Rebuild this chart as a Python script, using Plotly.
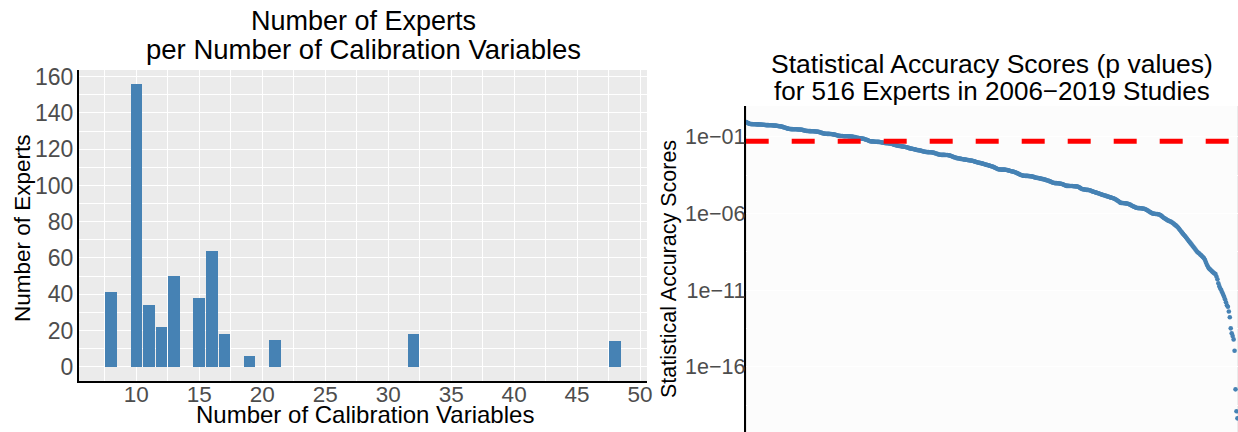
import plotly.graph_objects as go

# ---------------- data ----------------
calib_vars = [8, 10, 11, 12, 13, 15, 16, 17, 19, 21, 32, 48]
n_experts = [41, 156, 34, 22, 50, 38, 64, 18, 6, 15, 18, 14]
left_xticks = [10, 15, 20, 25, 30, 35, 40, 45, 50]
left_yticks = [0, 20, 40, 60, 80, 100, 120, 140, 160]

# log10 of statistical accuracy scores, sorted decreasing
acc_log10 = [
    -0.05, -0.09, -0.12, -0.15, -0.17,
    -0.18, -0.18, -0.19, -0.19, -0.19, -0.19, -0.20, -0.20, -0.20, -0.21, -0.21, -0.21, -0.22, -0.22, -0.23,
    -0.24, -0.25, -0.25, -0.25, -0.26, -0.26, -0.26, -0.26, -0.27, -0.27, -0.28, -0.28, -0.29,
    -0.30, -0.31, -0.32, -0.33, -0.34, -0.36, -0.38, -0.40, -0.42, -0.44, -0.46, -0.48, -0.49, -0.50,
    -0.51, -0.51, -0.52, -0.52, -0.52, -0.52, -0.52, -0.53, -0.53, -0.53, -0.54, -0.55, -0.56, -0.58, -0.60,
    -0.61, -0.62, -0.63, -0.63, -0.64, -0.64,
    -0.65, -0.65, -0.65, -0.65, -0.66, -0.66, -0.67, -0.68, -0.69, -0.71, -0.73, -0.75,
    -0.77, -0.79,
    -0.80, -0.81, -0.81, -0.82, -0.82, -0.82, -0.83, -0.83, -0.84, -0.85, -0.86, -0.87, -0.89, -0.91,
    -0.93, -0.94, -0.95, -0.96,
    -0.96, -0.96, -0.97, -0.97, -0.97, -0.97, -0.97, -0.98, -0.98, -0.99, -0.99, -1.00, -1.01, -1.02, -1.03, -1.05, -1.07,
    -1.08, -1.09, -1.10, -1.11, -1.12, -1.13, -1.14, -1.16, -1.18, -1.20, -1.22, -1.25, -1.28,
    -1.30, -1.31, -1.31, -1.32, -1.32, -1.33, -1.33, -1.33, -1.34, -1.34, -1.35, -1.36, -1.37, -1.38, -1.40,
    -1.41, -1.42, -1.42, -1.43, -1.43, -1.44, -1.45, -1.46, -1.48, -1.50, -1.52, -1.54, -1.56, -1.57, -1.59, -1.60, -1.61, -1.62, -1.63, -1.64,
    -1.65, -1.66, -1.67, -1.69, -1.71, -1.73, -1.75, -1.77, -1.78, -1.79, -1.80, -1.82, -1.83, -1.85, -1.87,
    -1.88, -1.89, -1.90, -1.91, -1.93, -1.95, -1.97, -1.98, -1.99, -2.00,
    -2.01, -2.01, -2.02, -2.02, -2.02, -2.03, -2.04,
    -2.06, -2.08, -2.10, -2.12, -2.14, -2.16, -2.18,
    -2.18, -2.19, -2.19, -2.19, -2.19, -2.20, -2.20, -2.20, -2.21, -2.22, -2.24, -2.26, -2.29, -2.32,
    -2.34, -2.36, -2.38, -2.40, -2.41, -2.42, -2.43, -2.45, -2.46, -2.47,
    -2.48, -2.49, -2.50, -2.51, -2.52, -2.53, -2.54, -2.55, -2.56, -2.57, -2.59, -2.61, -2.63, -2.65,
    -2.67, -2.68, -2.70, -2.71, -2.73, -2.74, -2.76, -2.78, -2.80, -2.82, -2.84,
    -2.85, -2.87, -2.89, -2.91, -2.93, -2.95, -2.97, -3.00, -3.03, -3.06, -3.09,
    -3.12, -3.13, -3.14, -3.14, -3.15, -3.15, -3.15, -3.15, -3.16, -3.17, -3.18,
    -3.20, -3.22, -3.24, -3.26, -3.27, -3.28, -3.30, -3.32, -3.35, -3.38, -3.41, -3.44, -3.47, -3.50, -3.52, -3.54,
    -3.55, -3.55, -3.56, -3.56, -3.56, -3.57, -3.57, -3.58, -3.59, -3.60, -3.62,
    -3.64, -3.66, -3.68, -3.69, -3.70, -3.71, -3.72, -3.74, -3.75, -3.77,
    -3.78, -3.80, -3.82, -3.84, -3.86, -3.88, -3.90, -3.93, -3.96, -3.99,
    -4.01, -4.02, -4.03, -4.03, -4.04, -4.04, -4.05, -4.06, -4.07, -4.09, -4.11, -4.14,
    -4.17, -4.19, -4.21,
    -4.21, -4.21, -4.22, -4.22, -4.22, -4.22, -4.23, -4.23, -4.24, -4.24, -4.25, -4.27, -4.30, -4.34, -4.38,
    -4.41, -4.43, -4.44, -4.45, -4.46, -4.47, -4.47, -4.48, -4.49, -4.51,
    -4.54, -4.57, -4.59, -4.61, -4.63, -4.65, -4.67, -4.69, -4.71, -4.74,
    -4.76, -4.78, -4.80, -4.82, -4.84, -4.86, -4.88, -4.90, -4.92, -4.94, -4.96, -4.98, -5.00,
    -5.02, -5.05, -5.08, -5.12, -5.16, -5.20, -5.25, -5.30,
    -5.32, -5.33, -5.33, -5.34, -5.34, -5.35, -5.36, -5.37, -5.39,
    -5.42, -5.45, -5.49, -5.52, -5.55, -5.58, -5.61, -5.64,
    -5.65, -5.66, -5.66, -5.67, -5.67, -5.68, -5.69, -5.70, -5.72, -5.75, -5.78, -5.82,
    -5.86, -5.90, -5.94, -5.98, -6.01,
    -6.02, -6.03, -6.04, -6.04, -6.05, -6.06, -6.08, -6.11, -6.15, -6.20, -6.26,
    -6.30, -6.34, -6.38, -6.42, -6.46, -6.49, -6.52,
    -6.54, -6.58, -6.62, -6.67, -6.72, -6.77, -6.82,
    -6.87, -6.94, -7.02, -7.10, -7.18, -7.26, -7.34,
    -7.41, -7.48, -7.56, -7.64, -7.72, -7.80, -7.88,
    -7.96, -8.04, -8.12, -8.20, -8.28, -8.36, -8.44, -8.52,
    -8.57, -8.62, -8.68, -8.74, -8.80, -8.86,
    -8.93, -9.05, -9.20, -9.35, -9.47,
    -9.58, -9.64, -9.70, -9.76, -9.82, -9.88, -9.92,
    -9.96, -10.12, -10.30, -10.56, -10.75, -10.90, -11.00,
    -11.15, -11.30, -11.44, -11.60, -11.80, -12.00, -12.09, -12.40, -12.78,
    -13.50, -13.82, -14.00, -14.22, -14.96, -17.48, -18.91, -19.37,
]
threshold = 0.05
right_yticks = [1e-1, 1e-6, 1e-11, 1e-16]
right_yticktext = ["1e\u221201", "1e\u221206", "1e\u221211", "1e\u221216"]
right_minor = [10 ** -3.5, 10 ** -8.5, 10 ** -13.5, 10 ** -18.5]

acc_scores = [10 ** v for v in acc_log10]
expert_idx = list(range(1, len(acc_scores) + 1))

# ---------------- figure ----------------
W, H = 1238, 432
FONT = "Liberation Sans, Arial, sans-serif"
BLUE = "#4682B4"

def px_x(x):
    return x / W

def px_y(y):
    return 1 - y / H

fig = go.Figure()

fig.add_trace(go.Bar(
    x=calib_vars, y=n_experts, width=0.92,
    marker=dict(color=BLUE, line=dict(width=0)),
    xaxis="x", yaxis="y", showlegend=False,
))

fig.add_trace(go.Scatter(
    x=expert_idx, y=acc_scores, mode="markers",
    marker=dict(color=BLUE, size=4.6, line=dict(width=0)),
    xaxis="x2", yaxis="y2", showlegend=False,
))

fig.add_trace(go.Scatter(
    x=[0.4, len(acc_scores) + 0.6], y=[threshold, threshold], mode="lines",
    line=dict(color="#FF0000", width=5, dash="23px,23px"),
    xaxis="x2", yaxis="y2", showlegend=False,
))

n = len(acc_scores)
fig.update_layout(
    template="none",
    width=W, height=H,
    margin=dict(l=0, r=0, t=0, b=0, autoexpand=False),
    paper_bgcolor="white",
    plot_bgcolor="#EBEBEB",
    font=dict(family=FONT, color="black"),
    bargap=0,
    xaxis=dict(
        domain=[px_x(79), px_x(647)], anchor="y", automargin=False,
        range=[5.45, 50.55],
        tickmode="array", tickvals=left_xticks, ticktext=[str(t) for t in left_xticks],
        tickfont=dict(size=22.5, color="#4D4D4D", family=FONT),
        ticks="", ticklen=0, ticklabelstandoff=-8,
        showgrid=True, gridcolor="white", gridwidth=1.1,
        minor=dict(dtick=2.5, tick0=0, showgrid=True, gridcolor="white", gridwidth=0.55),
        showline=True, linecolor="black", linewidth=2, zeroline=False,
    ),
    yaxis=dict(
        domain=[px_y(381), px_y(70)], anchor="x", automargin=False,
        range=[-7.9, 163.7],
        tickmode="array", tickvals=left_yticks, ticktext=[str(t) for t in left_yticks],
        tickfont=dict(size=23, color="#4D4D4D", family=FONT),
        ticks="", ticklen=0, ticklabelstandoff=-1,
        showgrid=True, gridcolor="white", gridwidth=1.1,
        minor=dict(dtick=20, tick0=10, showgrid=True, gridcolor="white", gridwidth=0.55),
        showline=True, linecolor="black", linewidth=2, zeroline=False,
    ),
    xaxis2=dict(
        domain=[px_x(745.7), 1.0], anchor="y2", automargin=False,
        range=[0.4, n + 0.6],
        tickmode="array", tickvals=expert_idx, showticklabels=False,
        ticks="", showgrid=True, gridcolor="#FCFCFC", gridwidth=1.0,
        showline=False, zeroline=False,
    ),
    yaxis2=dict(
        domain=[0.0, px_y(106)], anchor="x2", automargin=False,
        type="log", range=[-20.26, 1.0],
        tickmode="array", tickvals=right_yticks, ticktext=right_yticktext,
        tickfont=dict(size=21.5, color="#4D4D4D", family=FONT),
        ticks="", ticklen=0, ticklabelstandoff=-6,
        showgrid=True, gridcolor="white", gridwidth=1.1,
        minor=dict(tickmode="array", tickvals=right_minor, showgrid=True,
                   gridcolor="white", gridwidth=0.55),
        showline=True, linecolor="black", linewidth=2, zeroline=False,
    ),
)

def ann(text, x, y, size, angle=0):
    fig.add_annotation(
        text=text, x=px_x(x), y=px_y(y), xref="paper", yref="paper",
        xanchor="center", yanchor="middle", showarrow=False, textangle=angle,
        font=dict(size=size, color="black", family=FONT),
    )

ann("Number of Experts", 363, 21, 27)
ann("per Number of Calibration Variables", 363, 50, 27.5)
ann("Number of Calibration Variables", 365, 414, 24)
ann("Number of Experts", 22, 228, 22.5, -90)
ann("Statistical Accuracy Scores (p values)", 992, 64, 26.5)
ann("for 516 Experts in 2006\u22122019 Studies", 992, 91, 26)
ann("Statistical Accuracy Scores", 669, 269, 21.5, -90)

# remove the browser's default page margin so the 1238x432 figure fills the window
fig.write_html(
    "out.html",
    config={"displayModeBar": False},
    post_script="document.body.style.margin='0px';document.body.style.overflow='hidden';",
)
